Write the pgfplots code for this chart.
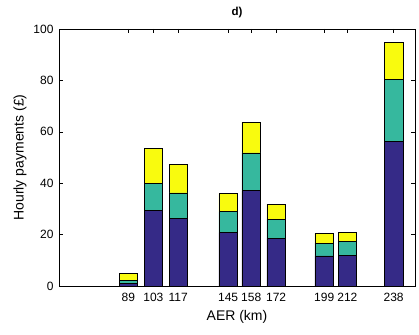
\documentclass[border=0pt]{standalone}
\usepackage{pgfplots}
\pgfplotsset{compat=1.18}
\usepackage{fontspec}
\setmainfont{Liberation Sans}
\definecolor{pblue}{RGB}{53,42,135}
\definecolor{pteal}{RGB}{54,184,158}
\definecolor{pyellow}{RGB}{249,251,14}
\begin{document}
\begin{tikzpicture}
\begin{axis}[
  scale only axis, width=356pt, height=257pt,
  xmin=50, xmax=250, ymin=0, ymax=100,
  ybar stacked, bar width=10.4, bar shift=0pt,
  xtick={89,103,117,145,158,172,199,212,238},
  xticklabels={89,103,117,145,158,172,199,212,238},
  ytick={0,20,40,60,80,100},
  tick align=inside, major tick length=4pt,
  tick style={black, line width=0.5pt},
  axis line style={black, line width=0.5pt},
  tick label style={font=\fontsize{12}{14}\selectfont},
  /pgf/number format/assume math mode=true,
  xticklabel style={inner sep=1pt, yshift=-6pt},
  yticklabel style={xshift=-2pt},
  xlabel={AER (km)}, ylabel={Hourly payments (£)},
  label style={font=\fontsize{14}{16}\selectfont},
  xlabel style={yshift=-4pt},
  ylabel style={yshift=0pt},
  title={\textbf{d)}}, title style={font=\fontsize{11.5}{13}\selectfont, yshift=2pt},
  every axis plot/.append style={draw=black, line width=0.6pt},
]
\addplot[fill=pblue] coordinates {(89,1.0) (103,29.4) (117,26.2) (145,20.8) (158,37.1) (172,18.5) (199,11.7) (212,11.8) (238,56.3)};
\addplot[fill=pteal] coordinates {(89,1.2) (103,10.6) (117,10.0) (145,8.1) (158,14.7) (172,7.5) (199,5.0) (212,5.4) (238,24.0)};
\addplot[fill=pyellow] coordinates {(89,2.7) (103,13.4) (117,11.1) (145,7.0) (158,12.0) (172,5.9) (199,3.9) (212,3.6) (238,14.5)};
\path (rel axis cs:0,0) ++(-59pt,-48pt) coordinate (bl);
\path (rel axis cs:1,1) ++(4pt,29pt) coordinate (tr);
\end{axis}
\useasboundingbox (bl) rectangle (tr);
\end{tikzpicture}
\end{document}
